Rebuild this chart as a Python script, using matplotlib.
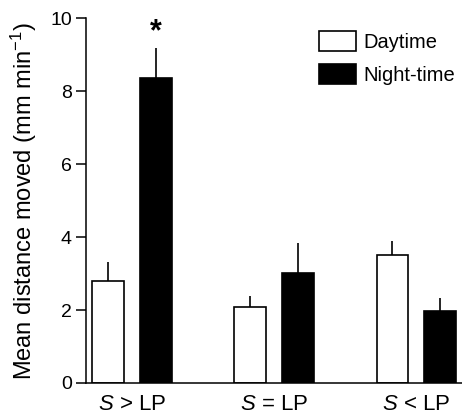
import numpy as np
import matplotlib
matplotlib.use('Agg')
import matplotlib.pyplot as plt
from matplotlib.patches import Patch

plt.rcParams['font.family'] = ['Liberation Sans', 'DejaVu Sans']
plt.rcParams['mathtext.fontset'] = 'custom'
plt.rcParams['mathtext.rm'] = 'Liberation Sans'
plt.rcParams['mathtext.it'] = 'Liberation Sans:italic'

# data
groups = [r'$\mathit{S}$ > LP', r'$\mathit{S}$ = LP', r'$\mathit{S}$ < LP']
day_mean = [2.80, 2.08, 3.51]
day_err = [0.53, 0.30, 0.38]
night_mean = [8.36, 3.01, 1.96]
night_err = [0.83, 0.83, 0.36]
sig_group = 0   # asterisk over night-time bar of this group

x = np.arange(len(groups))
w = 0.225
off = 0.167

fig = plt.figure(figsize=(4.62, 4.16), dpi=100)
ax = fig.add_axes([0.186, 0.0796, 0.814, 0.876])

ekw = dict(ecolor='black', elinewidth=1.2, capsize=0, capthick=0)
ax.bar(x - off, day_mean, w, color='white', edgecolor='black', linewidth=1.2,
       yerr=[np.zeros(3), day_err], error_kw=ekw, label='Daytime', zorder=2)
ax.bar(x + off, night_mean, w, color='black', edgecolor='black', linewidth=1.2,
       yerr=[np.zeros(3), night_err], error_kw=ekw, label='Night-time', zorder=2)

ax.text(x[sig_group] + off, 10.02, '*', ha='center', va='top',
        fontsize=22, fontweight='bold', clip_on=False)

ax.set_xlim(-0.324, 2.322)
ax.set_ylim(0, 10)
ax.set_yticks([0, 2, 4, 6, 8, 10])
ax.set_xticks(x)
ax.set_xticklabels(groups, fontsize=16)
ax.tick_params(axis='x', length=0, pad=8)
ax.tick_params(axis='y', direction='out', length=7.2, width=1.1, pad=3, labelsize=14)

for s in ['top', 'right']:
    ax.spines[s].set_visible(False)
for s in ['left', 'bottom']:
    ax.spines[s].set_linewidth(1.1)

ax.set_ylabel(r'Mean distance moved (mm min$^{-1}$)', fontsize=17, labelpad=8)

handles = [Patch(facecolor='white', edgecolor='black', linewidth=1.2),
           Patch(facecolor='black', edgecolor='black', linewidth=1.2)]
ax.legend(handles, ['Daytime', 'Night-time'], loc='upper left',
          bbox_to_anchor=(319 / 462, 1 - 31 / 416), bbox_transform=fig.transFigure,
          frameon=False, fontsize=14.5, handlelength=1.83, handleheight=1.18,
          handletextpad=0.35, labelspacing=0.6, borderpad=0, borderaxespad=0)

fig.savefig('out.png', dpi=100)
